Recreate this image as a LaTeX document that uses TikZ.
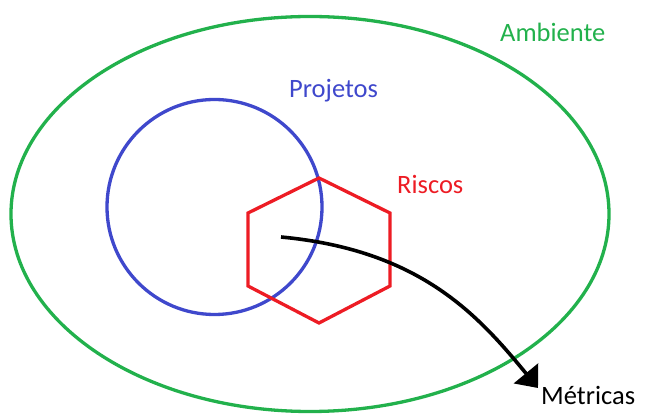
\documentclass[tikz,border=0pt]{standalone}
\usepackage{fontspec}
\setmainfont{Carlito}
\usetikzlibrary{arrows.meta,shapes.geometric}
\definecolor{envDraw}{HTML}{22B14C}
\definecolor{projDraw}{HTML}{3F48CC}
\definecolor{riskDraw}{HTML}{ED1C24}
\tikzset{
  font=\fontsize{26.5}{30}\selectfont,
  outline/.style={line width=3.3pt, inner sep=0pt},
  lbl/.style    ={anchor=base west, inner sep=0pt},
  arr/.style    ={-{Triangle[length=19pt,width=31pt]}, line width=3.6pt},
}
\begin{document}
\begin{tikzpicture}[x=1pt,y=-1pt]
  \useasboundingbox (0,0) rectangle (649,414);
  \node[outline, draw=envDraw, ellipse, minimum width=598pt, minimum height=395pt] (env) at (310,214) {};
  \node[outline, draw=projDraw, circle, minimum size=215pt] (proj) at (214.5,207) {};
  % hexagon of risks
  \draw[outline, riskDraw] (319,178) coordinate (r1) -- (390,213) -- (390,286) -- (319,323)
    -- (248,286) -- (248,213) -- cycle;
  \coordinate (risk) at (281,237);
  \coordinate (tip)  at (538,388);

  \node[lbl, text=envDraw]  (envlbl)  at (500,41.5) {Ambiente};
  \node[lbl, text=projDraw] (projlbl) at (289,98)   {Projetos};
  \node[lbl, text=riskDraw] (risklbl) at (397,194)  {Riscos};
  \node[lbl]                (met)     at (541,405)  {Métricas};

  \draw[arr] (risk) .. controls (420,250) and (478,315) .. (tip);
\end{tikzpicture}
\end{document}
